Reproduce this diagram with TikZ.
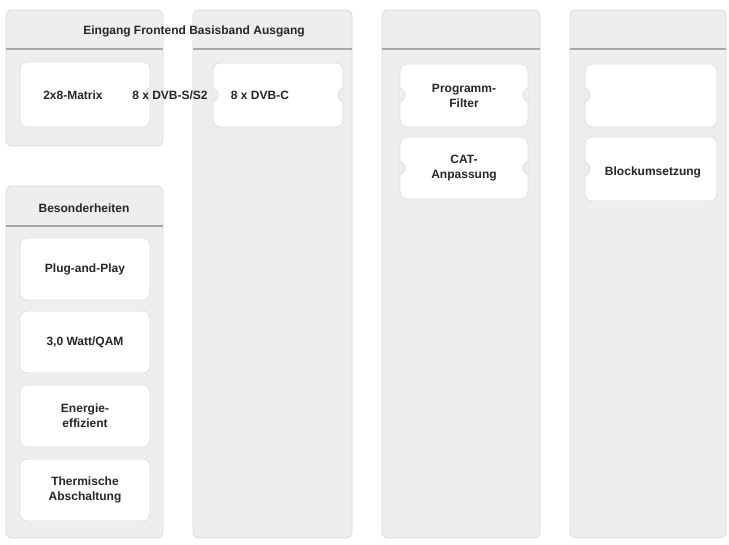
\documentclass[tikz,border=0pt]{standalone}
\usepackage{fontspec}
\setmainfont{Liberation Sans}
\begin{document}
\begin{tikzpicture}[x=1pt,y=-1pt,
  panel/.style={fill=panelc,draw=panelb,line width=0.8pt,rounded corners=6pt},
  card/.style={fill=white,draw=cardb,line width=0.8pt,rounded corners=7pt},
  txt/.style={font=\bfseries\fontsize{12}{15}\selectfont,align=center,text=black!85},
  hline/.style={draw=lineC,line width=1.6pt}]
\definecolor{panelc}{HTML}{EEEEEE}
\definecolor{panelb}{HTML}{D9D9D9}
\definecolor{cardb}{HTML}{DDDDDD}
\definecolor{lineC}{HTML}{A8A8A8}
\useasboundingbox (0,0) rectangle (729,545);
\newcommand{\notch}[2]{\fill[panelc] (#1,#2) circle (7);\draw[cardb,line width=0.8pt] (#1,#2) circle (7);}
% panels
\path[panel] (6,10) rectangle (163,146);
\path[panel] (6,186) rectangle (163,538);
\path[panel] (193,10) rectangle (352,538);
\path[panel] (382,10) rectangle (540,538);
\path[panel] (570,10) rectangle (726,538);
\foreach \a/\b/\y in {6/163/49,193/352/49,382/540/49,570/726/49,6/163/226}
  \draw[hline] (\a,\y) -- (\b,\y);
% cards
\path[card] (20,62) rectangle (150,127);
\path[card] (213,63) rectangle (343,127);
\path[card] (400,64) rectangle (528,127);
\path[card] (400,137) rectangle (528,199);
\path[card] (585,64) rectangle (717,127);
\path[card] (585,137) rectangle (717,201);
\foreach \y in {238,311,385,459}
  \path[card] (20,\y) rectangle (150,\y+62);
% notches
\begin{scope}
\clip (20,62) rectangle (150,127); \notch{152}{94}
\end{scope}
\begin{scope}
\clip (213,63) rectangle (343,127); \notch{211}{95}\notch{345}{95}
\end{scope}
\begin{scope}
\clip (400,64) rectangle (528,199); \notch{398}{95}\notch{530}{95}\notch{398}{168}\notch{530}{168}
\end{scope}
\begin{scope}
\clip (585,64) rectangle (717,201); \notch{583}{95}\notch{583}{169}
\end{scope}
% texts
\node[txt] (title) at (194,31) {Eingang Frontend Basisband Ausgang};
\node[txt] (bes) at (84,208) {Besonderheiten};
\node[txt] (m) at (73,95) {2x8-Matrix};
\node[txt] (s) at (170,95) {8 x DVB-S/S2};
\node[txt] (c) at (260,95) {8 x DVB-C};
\node[txt] (pf) at (464,96) {Programm-\\Filter};
\node[txt] (cat) at (464,168) {CAT-\\Anpassung};
\node[txt] (bl) at (653,172) {Blockumsetzung};
\node[txt] (p1) at (85,269) {Plug-and-Play};
\node[txt] (p2) at (85,342) {3,0 Watt/QAM};
\node[txt] (p3) at (85,416) {Energie-\\effizient};
\node[txt] (p4) at (85,490) {Thermische\\Abschaltung};
\end{tikzpicture}
\end{document}
